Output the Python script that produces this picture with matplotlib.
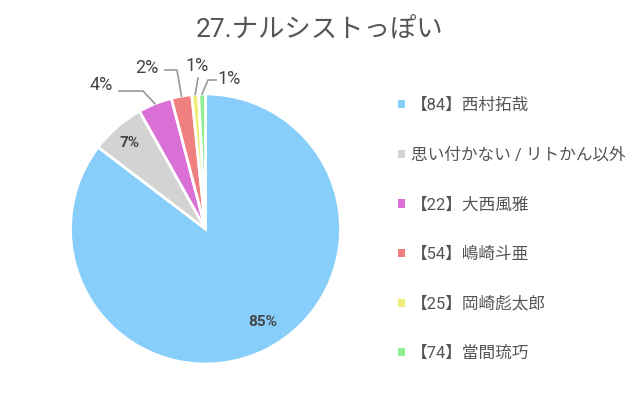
import numpy as np
import matplotlib
matplotlib.use("Agg")
import matplotlib.pyplot as plt

plt.rcParams['font.family'] = ['Roboto', 'Noto Sans CJK JP', 'DejaVu Sans']

# data
names = ["【84】西村拓哉", "思い付かない / リトかん以外", "【22】大西風雅",
         "【54】嶋崎斗亜", "【25】岡崎彪太郎", "【74】當間琉巧"]
counts = [105, 8, 5, 3, 1, 1]
pct_labels = ["85%", "7%", "4%", "2%", "1%", "1%"]
colors = ["#87CEFA", "#D3D3D3", "#DA70D6", "#F08080", "#EEEE77", "#90EE90"]

W, H = 640, 403
cx, cy, r = 205.5, 229, 135

fig = plt.figure(figsize=(W / 100, H / 100), dpi=100)
ax = fig.add_axes([(cx - r) / W, (H - cy - r) / H, 2 * r / W, 2 * r / H])
wedges, _ = ax.pie(counts, colors=colors, startangle=90, counterclock=False,
                   radius=1, wedgeprops=dict(edgecolor="white", linewidth=2))
ax.set_xlim(-1, 1)
ax.set_ylim(-1, 1)
ax.set_aspect("equal")
ax.axis("off")


def px(x, y):
    return ((x - cx) / r, (cy - y) / r)


txt_col = "#444444"
line_col = "#999999"

# inside labels
ax.text(*px(263, 322), pct_labels[0], ha="center", va="center",
        fontsize=11, color=txt_col, fontweight="bold")
ax.text(*px(130, 143), pct_labels[1], ha="center", va="center",
        fontsize=11, color=txt_col, fontweight="bold")

# outside labels with leader lines
outside = [
    (2, (101, 85), [(119, 91), (143, 91)]),
    (3, (147, 68), [(165, 70), (177, 70)]),
    (4, (197, 66), [(198, 78)]),
    (5, (229, 79), [(216, 80), (208, 80)]),
]
for idx, tpos, pts in outside:
    w = wedges[idx]
    mid = np.deg2rad((w.theta1 + w.theta2) / 2)
    edge = (np.cos(mid) * 1.0, np.sin(mid) * 1.0)
    path = [px(*p) for p in pts] + [edge]
    xs, ys = zip(*path)
    ax.plot(xs, ys, color=line_col, lw=1.2, clip_on=False)
    ax.text(*px(*tpos), pct_labels[idx], ha="center", va="center",
            fontsize=13, color=txt_col)

fig.text(0.5, 1 - 29 / H, "27.ナルシストっぽい", ha="center", va="center",
         fontsize=19, color="#555555")

leg = fig.legend(wedges, names, loc="upper left",
                 bbox_to_anchor=(383 / W, 1 - 83 / H), frameon=False,
                 handlelength=0.4, handleheight=0.4, handletextpad=0.4,
                 labelspacing=2.05, fontsize=12, labelcolor="#555555")
for h in leg.legend_handles:
    h.set_edgecolor("none")

fig.savefig("out.png", dpi=100)
